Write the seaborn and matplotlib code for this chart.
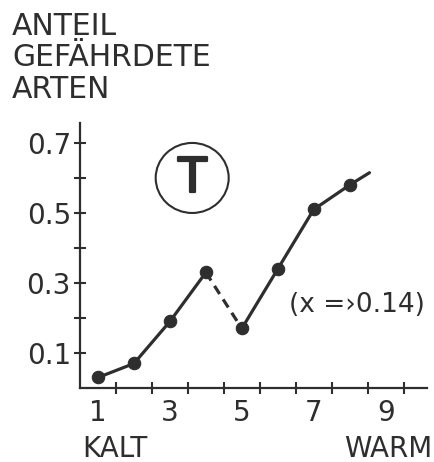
import numpy as np
import pandas as pd
import seaborn as sns
import matplotlib
matplotlib.use("Agg")
import matplotlib.pyplot as plt
from matplotlib.patches import Ellipse
from matplotlib.ticker import FixedLocator
import matplotlib.patheffects as pe

# ---- data ----
x_vals = [1, 2, 3, 4, 5, 6, 7, 8]
y_vals = [0.03, 0.07, 0.19, 0.33, 0.17, 0.34, 0.51, 0.58]
tail_x = [8, 8.55]
tail_y = [0.58, 0.615]
x_ticklabels = ["1", "3", "5", "7", "9"]
y_ticklabels = ["0.1", "0.3", "0.5", "0.7"]
title_lines = ["ANTEIL", "GEFÄHRDETE", "ARTEN"]
note = "(x =›0.14)"

ink = "#2e2e2e"

sns.set_theme(style="white")
plt.rcParams["font.family"] = ["DejaVu Sans"]

# segments: solid 1-4, dashed 4-5, solid 5-8 + tail
seg_rows = []
for xi, yi in zip(x_vals[:4], y_vals[:4]):
    seg_rows.append(dict(x=xi, y=yi, seg="a", kind="solid"))
for xi, yi in zip(x_vals[3:5], y_vals[3:5]):
    seg_rows.append(dict(x=xi, y=yi, seg="b", kind="dashed"))
for xi, yi in zip(x_vals[4:] + tail_x[1:], y_vals[4:] + tail_y[1:]):
    seg_rows.append(dict(x=xi, y=yi, seg="c", kind="solid"))
lines_df = pd.DataFrame(seg_rows)
pts_df = pd.DataFrame(dict(x=x_vals, y=y_vals))

fig = plt.figure(figsize=(4.35, 4.62), dpi=100)
ax = fig.add_axes([80 / 435, 1 - 388 / 462, (427 - 80) / 435, (388 - 123) / 462])

sns.lineplot(data=lines_df, x="x", y="y", units="seg", style="kind",
             estimator=None, sort=False,
             dashes={"solid": "", "dashed": (3, 2)},
             color=ink, linewidth=2.3, legend=False, ax=ax)
sns.scatterplot(data=pts_df, x="x", y="y", color=ink, s=80,
                edgecolor=ink, linewidth=0.8, zorder=5, ax=ax)

ax.set_xlim(0.5, 10.15)
ax.set_ylim(0, 0.757)
ax.set_xlabel("")
ax.set_ylabel("")

for s in ["top", "right"]:
    ax.spines[s].set_visible(False)
for s in ["left", "bottom"]:
    ax.spines[s].set_color(ink)
    ax.spines[s].set_linewidth(1.6)

# x: labels at odd integers (no marks), marks at half integers
ax.xaxis.set_major_locator(FixedLocator([1, 3, 5, 7, 9]))
ax.set_xticklabels(x_ticklabels)
ax.xaxis.set_minor_locator(FixedLocator(np.arange(1.5, 10, 1.0)))
ax.tick_params(axis="x", which="major", length=0, pad=8, labelsize=20, labelcolor=ink)
ax.tick_params(axis="x", which="minor", direction="inout", length=9,
               width=1.5, color=ink, bottom=True)

ax.yaxis.set_major_locator(FixedLocator([0.1, 0.3, 0.5, 0.7]))
ax.set_yticklabels(y_ticklabels)
ax.yaxis.set_minor_locator(FixedLocator([0.2, 0.4, 0.6]))
ax.tick_params(axis="y", which="both", direction="inout", length=9,
               width=1.5, color=ink, left=True)
ax.tick_params(axis="y", which="major", pad=2, labelsize=20, labelcolor=ink)

# circled T
ax.add_patch(Ellipse((3.62, 0.60), 2.03, 0.20, fill=False, edgecolor=ink,
                     linewidth=1.5, clip_on=False))
ax.text(3.62, 0.597, "T", ha="center", va="center", fontsize=34,
        color=ink, path_effects=[pe.withStroke(linewidth=1.6, foreground=ink)])

ax.text(6.3, 0.237, note, ha="left", va="center", fontsize=19, color=ink)

fig.text(12 / 435, 1 - 12 / 462, "\n".join(title_lines), ha="left", va="top",
         fontsize=21.5, color=ink, linespacing=1.1)
fig.text(82 / 435, 1 - 457 / 462, "KALT", ha="left", va="baseline",
         fontsize=20, color=ink)
fig.text(432 / 435, 1 - 457 / 462, "WARM", ha="right", va="baseline",
         fontsize=20, color=ink)

fig.savefig("out.png", dpi=100, facecolor="white")
